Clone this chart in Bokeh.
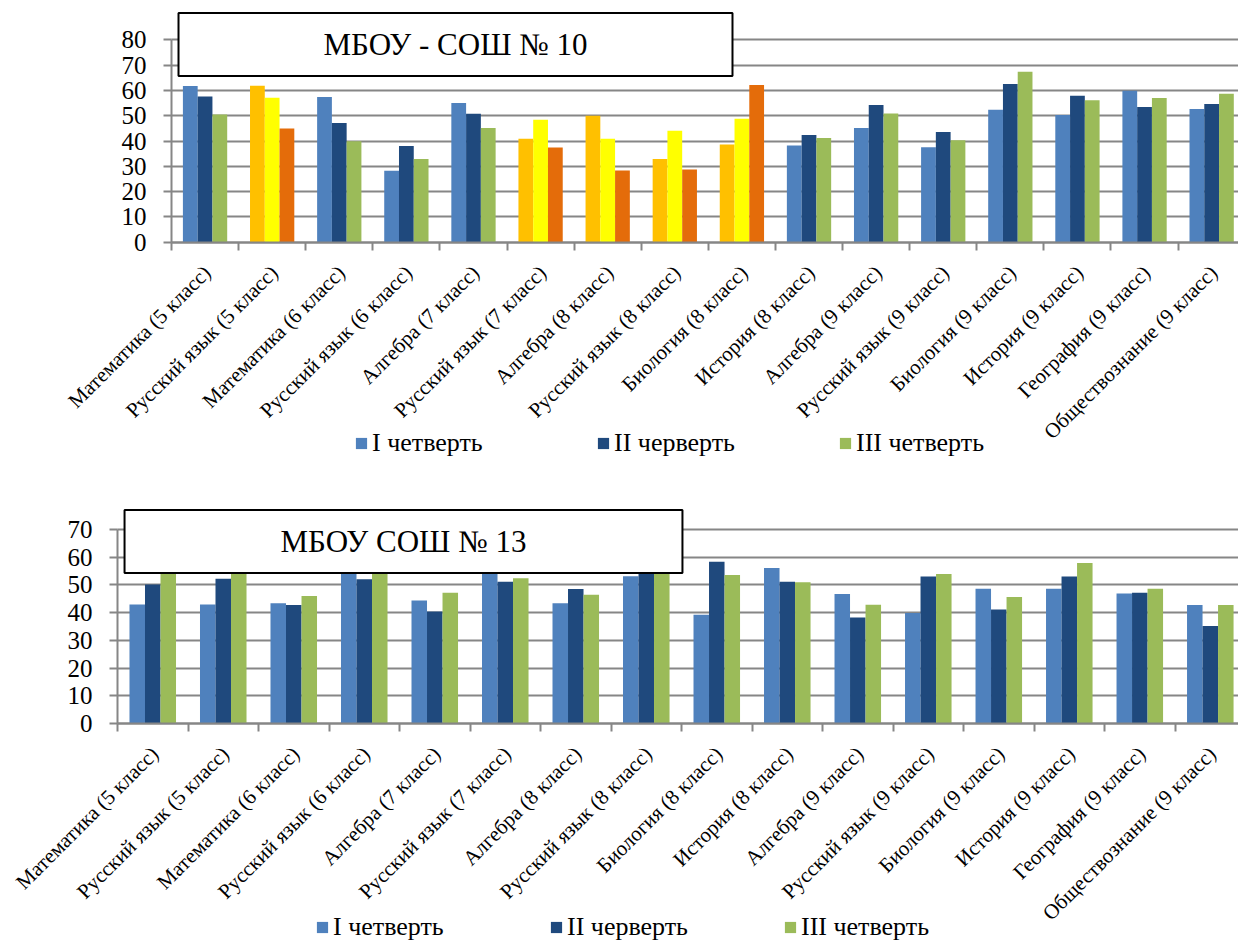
import math
from bokeh.plotting import figure
from bokeh.models import (FixedTicker, Legend, LegendItem, Label, ColumnDataSource, Range1d,
                          Grid)
from bokeh.core.properties import value
from bokeh.layouts import column
from bokeh.embed import file_html
from bokeh.resources import INLINE

categories = ["Математика (5 класс)", "Русский язык (5 класс)", "Математика (6 класс)",
              "Русский язык (6 класс)", "Алгебра (7 класс)", "Русский язык (7 класс)",
              "Алгебра (8 класс)", "Русский язык (8 класс)", "Биология (8 класс)",
              "История (8 класс)", "Алгебра (9 класс)", "Русский язык (9 класс)",
              "Биология (9 класс)", "История (9 класс)", "География (9 класс)",
              "Обществознание (9 класс)"]
series_names = ["I четверть", "II черверть", "III четверть"]

# МБОУ - СОШ № 10
s10_q1 = [61.7, 61.8, 57.4, 28.2, 55.0, 40.9, 50.0, 32.9, 38.6, 38.2, 45.1, 37.5, 52.4, 50.3, 59.9, 52.6]
s10_q2 = [57.6, 57.1, 47.1, 38.0, 50.8, 48.4, 40.9, 44.1, 48.8, 42.4, 54.2, 43.6, 62.5, 57.9, 53.4, 54.6]
s10_q3 = [50.5, 44.9, 39.9, 32.9, 45.1, 37.4, 28.3, 28.7, 62.1, 41.2, 50.9, 40.3, 67.4, 56.1, 57.0, 58.7]
s10_highlight = [1, 5, 6, 7, 8]  # groups drawn in orange/yellow shades

# МБОУ СОШ № 13
s13_q1 = [42.9, 42.9, 43.4, 56.0, 44.4, 55.0, 43.4, 53.1, 39.2, 56.1, 46.7, 39.9, 48.6, 48.6, 46.9, 42.7]
s13_q2 = [50.1, 52.2, 42.7, 52.0, 40.4, 51.1, 48.5, 55.5, 58.4, 51.1, 38.2, 53.0, 41.1, 53.0, 47.2, 35.2]
s13_q3 = [56.0, 55.5, 46.0, 55.0, 47.2, 52.4, 46.4, 55.0, 53.6, 51.0, 42.8, 53.9, 45.6, 57.9, 48.6, 42.7]

BLUE = ["#4F81BD", "#1F497D", "#9BBB59"]
WARM = ["#FFC000", "#FFFF00", "#E46C0A"]
GRID = "#868686"
FONT = "'Liberation Serif', 'Times New Roman', serif"
W = 1238


def make_chart(title, series, ymax, highlight, height, axis_px, zero_px, top_px,
               title_pos, title_pad, legend_pos, legend_label_w):
    n = len(categories)
    ppu = (zero_px - top_px) / ymax              # pixels per value unit
    cw = (W - axis_px) / 15.9                    # pixels per category
    p = figure(width=W, height=height, output_backend="svg", toolbar_location=None,
               x_range=Range1d(-axis_px / cw, (W - axis_px) / cw),
               y_range=Range1d(-(height - zero_px) / ppu, zero_px / ppu),
               min_border_left=0, min_border_top=0, min_border_bottom=0,
               min_border_right=0)
    p.outline_line_color = None
    p.background_fill_color = "white"
    p.border_fill_color = "white"
    p.xgrid.visible = False
    yg = p.ygrid[0]
    yg.grid_line_color = GRID
    yg.grid_line_width = 2
    yg.ticker = FixedTicker(ticks=list(range(0, ymax + 1, 10)))
    if "cross_bounds" in Grid.properties():
        yg.cross_bounds = (0, n)

    bw = 0.22
    offsets = [-bw, 0.0, bw]
    renderers = []
    for k, vals in enumerate(series):
        xs = [i + 0.5 + offsets[k] for i in range(n)]
        cols = [WARM[k] if i in highlight else BLUE[k] for i in range(n)]
        src = ColumnDataSource(dict(x=xs, top=vals, color=cols))
        r = p.vbar(x="x", top="top", bottom=0, width=bw, source=src,
                   fill_color="color", line_color=None)
        renderers.append(r)

    # y axis placed at x = 0, drawn only from 0 to max tick
    ya = p.yaxis[0]
    ya.fixed_location = 0
    ya.ticker = FixedTicker(ticks=list(range(0, ymax + 1, 10)))
    ya.bounds = (0, ymax)
    ya.axis_line_color = GRID
    ya.axis_line_width = 2
    ya.major_tick_line_color = GRID
    ya.major_tick_line_width = 2
    ya.major_tick_out = 8
    ya.major_tick_in = 0
    ya.minor_tick_line_color = None
    ya.major_label_text_font = FONT
    ya.major_label_text_font_size = "25px"
    ya.major_label_text_color = "black"
    ya.major_label_standoff = 17

    # x axis at y = 0 with ticks at category boundaries
    xa = p.xaxis[0]
    xa.fixed_location = 0
    xa.bounds = (0, n)
    xa.ticker = FixedTicker(ticks=[], minor_ticks=list(range(0, n + 1)))
    xa.axis_line_color = GRID
    xa.axis_line_width = 2
    xa.major_tick_line_color = None
    xa.minor_tick_line_color = GRID
    xa.minor_tick_line_width = 2
    xa.minor_tick_out = 8
    xa.minor_tick_in = 0

    # category labels, rotated 45 degrees, ending under each group centre
    lsrc = ColumnDataSource(dict(x=[i + 0.5 for i in range(n)], y=[0] * n, text=categories))
    p.text(x="x", y="y", text="text", source=lsrc, angle=math.pi / 4,
           text_align="right", text_baseline="middle", y_offset=27, x_offset=2,
           text_font=value(FONT), text_font_size="21px", text_color="black")

    # title box
    lbl = Label(x=title_pos[0], y=title_pos[1], x_units="screen", y_units="screen",
                text=title, text_font=FONT, text_font_size="31px", text_color="black",
                text_align="center", text_baseline="middle",
                border_line_color="black", border_line_width=2,
                background_fill_color="white", background_fill_alpha=1.0,
                padding=title_pad)
    p.add_layout(lbl)

    items = [LegendItem(label=series_names[k], renderers=[renderers[k]], index=0)
             for k in range(3)]
    leg = Legend(items=items, location=legend_pos, orientation="horizontal",
                 glyph_width=14, glyph_height=14, label_standoff=4,
                 label_width=legend_label_w, label_height=26, spacing=0, padding=0,
                 margin=0, border_line_color=None, background_fill_alpha=0,
                 label_text_font=FONT, label_text_font_size="26px",
                 label_text_color="black")
    p.add_layout(leg, "center")
    return p


top = make_chart("МБОУ - СОШ № 10", [s10_q1, s10_q2, s10_q3], 80, s10_highlight,
                 height=460, axis_px=171, zero_px=241.7, top_px=39.3,
                 title_pos=(455, 416), title_pad=(145, 14),
                 legend_pos=(354, 2), legend_label_w=224)
bottom = make_chart("МБОУ СОШ № 13", [s13_q1, s13_q2, s13_q3], 70, [],
                    height=482, axis_px=117, zero_px=262.9, top_px=69.0,
                    title_pos=(403, 401), title_pad=(156, 14),
                    legend_pos=(315, 0), legend_label_w=216)

layout = column(top, bottom, spacing=0)
open("out.html", "w").write(file_html(layout, INLINE))
